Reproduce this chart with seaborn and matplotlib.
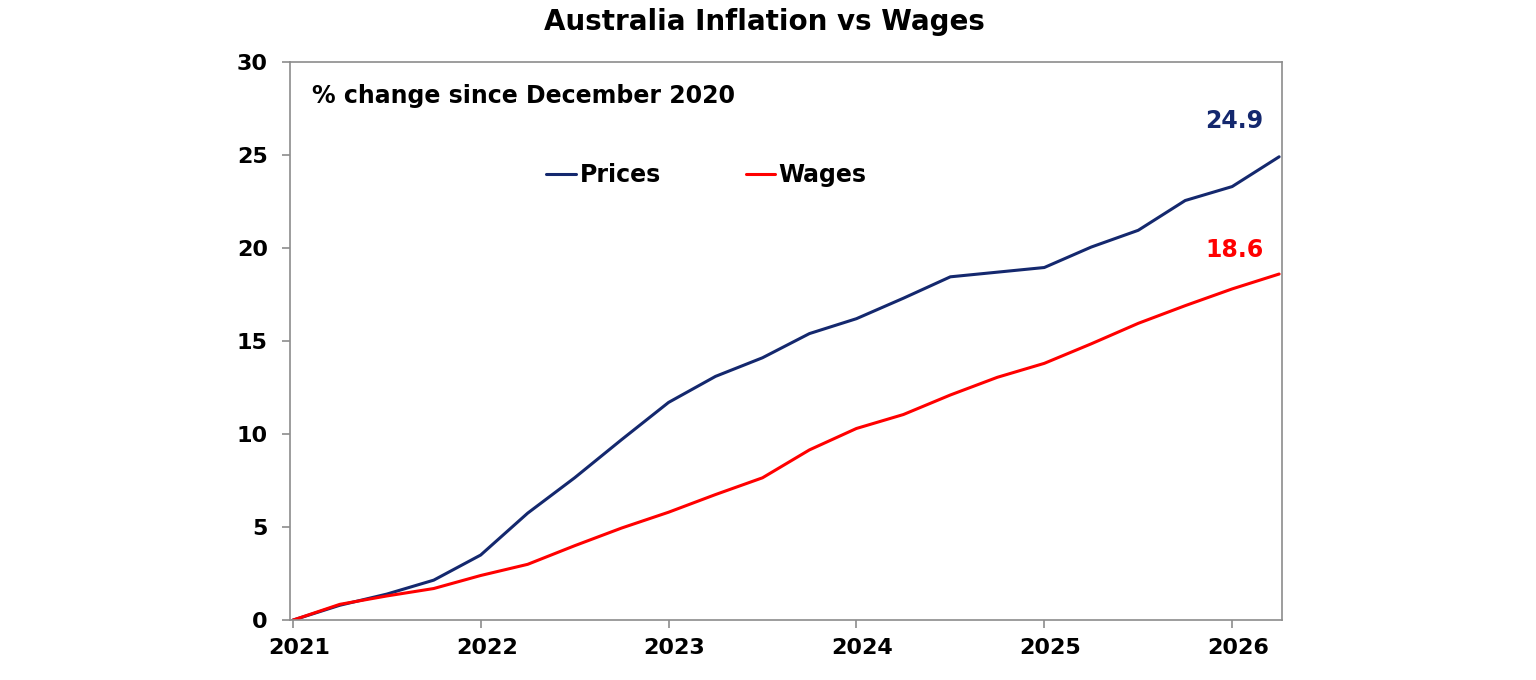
import numpy as np
import pandas as pd
import matplotlib
matplotlib.use('Agg')
import matplotlib.pyplot as plt
import matplotlib.transforms as mtransforms
import seaborn as sns

# % change since December 2020, quarterly (Dec-20 .. Mar-26)
prices = [0.0, 0.8, 1.4, 2.15, 3.5, 5.75, 7.65, 9.7, 11.7, 13.1, 14.1, 15.4,
          16.2, 17.3, 18.45, 18.7, 18.95, 20.05, 20.95, 22.55, 23.3, 24.9]
wages = [0.0, 0.85, 1.3, 1.7, 2.4, 3.0, 4.0, 4.95, 5.8, 6.75, 7.65, 9.15,
         10.3, 11.05, 12.1, 13.05, 13.8, 14.85, 15.95, 16.9, 17.8, 18.6]
year_ticks = [2021, 2022, 2023, 2024, 2025, 2026]
y_ticks = [0, 5, 10, 15, 20, 25, 30]

navy = '#14286e'
red = '#ff0000'

t = 2021 + np.arange(len(prices)) / 4
df = pd.DataFrame({
    'date': np.concatenate([t, t]),
    'value': prices + wages,
    'series': ['Prices'] * len(prices) + ['Wages'] * len(wages),
})

sns.set_theme(style='white')
# wide bold face, close to the stretched Arial of the original
plt.rcParams['font.family'] = ['DejaVu Sans']
plt.rcParams['font.weight'] = 'bold'
plt.rcParams['text.color'] = 'black'

fig = plt.figure(figsize=(15.36, 6.8), dpi=100)
ax = fig.add_axes([0.1888, 0.088, 0.6458, 0.821])

sns.lineplot(data=df, x='date', y='value', hue='series',
             palette={'Prices': navy, 'Wages': red}, linewidth=2.2, ax=ax)

ax.set_xlim(2020.985, 2026.265)
ax.set_ylim(0, 30)
ax.set_xticks(year_ticks)
ax.set_xticklabels([str(y) for y in year_ticks])
ax.set_yticks(y_ticks)
ax.set_xlabel('')
ax.set_ylabel('')

for s in ax.spines.values():
    s.set_color('#8c8c8c')
    s.set_linewidth(1.2)
ax.tick_params(axis='both', which='both', direction='out', length=6,
               width=1.2, color='#8c8c8c', labelsize=16, labelcolor='black')
ax.tick_params(axis='y', pad=10, left=True)
ax.tick_params(axis='x', pad=7, bottom=True)
shift = mtransforms.ScaledTranslation(0.06, 0, fig.dpi_scale_trans)
for lab in ax.get_xticklabels():
    lab.set_fontweight('bold')
    lab.set_transform(lab.get_transform() + shift)
for lab in ax.get_yticklabels():
    lab.set_fontweight('bold')

fig.suptitle('Australia Inflation vs Wages', fontsize=20, fontweight='bold',
             color='black', x=0.498, y=0.988)

ax.text(0.022, 0.939, '% change since December 2020', transform=ax.transAxes,
        fontsize=17, fontweight='bold', ha='left', va='center')
ax.text(2026.01, 26.8, f'{prices[-1]:.1f}', color=navy, fontsize=17,
        fontweight='bold', ha='center', va='center')
ax.text(2026.01, 19.9, f'{wages[-1]:.1f}', color=red, fontsize=17,
        fontweight='bold', ha='center', va='center')

handles, labels = ax.get_legend_handles_labels()
ax.legend(handles, labels, loc='center', bbox_to_anchor=(0.42, 0.797),
          ncol=2, frameon=False, handlelength=1.25, handletextpad=0.15,
          columnspacing=3.6, prop={'size': 17, 'weight': 'bold'})

fig.savefig('out.png', dpi=100, facecolor='white')
